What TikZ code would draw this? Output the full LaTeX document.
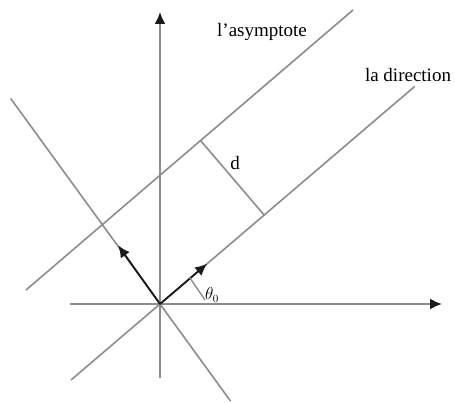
\documentclass[tikz,border=0pt]{standalone}
\usepackage{fontspec}
\setmainfont{Liberation Serif}
\usetikzlibrary{arrows.meta,calc}
\definecolor{cline}{HTML}{8c8c8c}
\definecolor{cdark}{HTML}{1a1a1a}

\begin{document}
\begin{tikzpicture}[x=1pt,y=1pt,
  axis/.style={draw=cline,line width=2pt,-{Latex[length=12pt,width=11pt]},
    arrows={[color=cdark]}},
  gline/.style={draw=cline,line width=1.6pt},
  vec/.style={draw=cdark,line width=1.8pt,-{Latex[length=12pt,width=11pt]}},
  lbl/.style={font=\fontsize{19}{22}\selectfont,inner sep=0pt}]
  \useasboundingbox (-160,-98) rectangle (295,304);
  \coordinate (O) at (0,0);
  % axes
  \coordinate (xl) at (-90,0);
  \coordinate (xr) at (282,0);
  \coordinate (yb) at (0,-74);
  \coordinate (yt) at (0,292);
  \draw[axis] (xl) -- (xr);
  \draw[axis] (yb) -- (yt);
  % direction and its normal
  \coordinate (dl) at (220.5:117);
  \coordinate (du) at (40.5:335);
  \coordinate (nu) at (126:254);
  \coordinate (nl) at (306:120);
  \draw[gline] (dl) -- (du);
  \draw[gline] (nl) -- (nu);
  % asymptote
  \coordinate (al) at (-134,14);
  \coordinate (ar) at (193,294);
  \draw[gline] (al) -- (ar);
  % distance d
  \coordinate (d1) at (40.5:137);
  \coordinate (d2) at ($(d1)+(130.5:98)$);
  \draw[gline] (d1) -- (d2);
  % unit vectors
  \coordinate (ed) at (40.5:62);
  \coordinate (en) at (125.5:72);
  \draw[vec] (O) -- (ed);
  \draw[vec] (O) -- (en);
  % angle
  \coordinate (t1) at (30,26);
  \coordinate (t2) at (45,4);
  \draw[draw=cline,line width=1.4pt] (t1) -- (t2);
  \node[font=\fontsize{16}{18}\selectfont,inner sep=0pt] (th) at (52,9) {$\theta_0$};
  % labels
  \node[lbl] (asy) at (102,272) {l'asymptote};
  \node[lbl] (dir) at (248,229) {la direction};
  \node[lbl] (dd) at (75,141) {d};
\end{tikzpicture}
\end{document}
